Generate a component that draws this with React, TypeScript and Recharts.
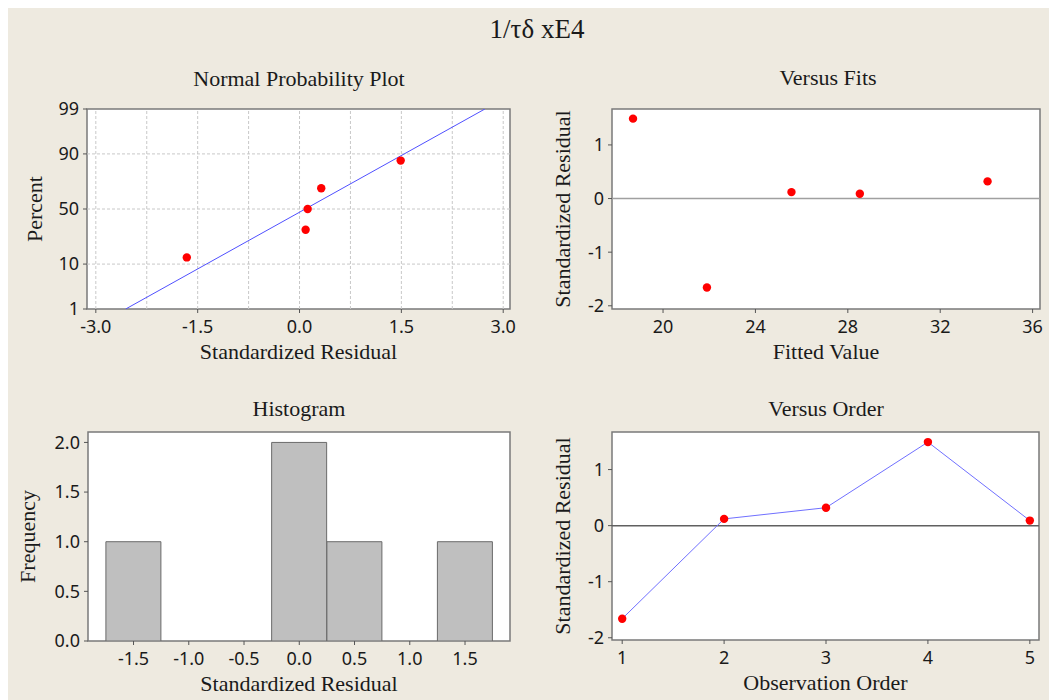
import React from 'react';
import {
  ScatterChart,
  Scatter,
  BarChart,
  Bar,
  XAxis,
  YAxis,
  ReferenceLine,
  ReferenceArea,
} from 'recharts';

// ---------- data ----------
const observationOrder = [1, 2, 3, 4, 5];
const residuals = [-1.66, 0.12, 0.32, 1.49, 0.09];
const fittedValues = [21.9, 25.56, 34.05, 18.7, 28.52];

const sortedResiduals = [-1.66, 0.09, 0.12, 0.32, 1.49];
const probPercents = [13, 31.5, 50, 68.5, 87];
const fitLineResidual = [-2.56, 2.73];
const fitLinePercent = [1, 99];

const histBins = [-1.5, -1.0, -0.5, 0.0, 0.5, 1.0, 1.5];
const histCounts = [1, 0, 0, 2, 1, 0, 1];

const npXTicks = [-3, -1.5, 0, 1.5, 3];
const npGridX = [-3, -2.25, -1.5, -0.75, 0, 0.75, 1.5, 2.25, 3];
const npYTicks = [1, 10, 50, 90, 99];
const npGridY = [10, 50, 90];
const fitsXTicks = [20, 24, 28, 32, 36];
const residTicks = [-2, -1, 0, 1];
const histXTicks = [-1.5, -1.0, -0.5, 0.0, 0.5, 1.0, 1.5];
const histYTicks = [0, 0.5, 1.0, 1.5, 2.0];
const orderTicks = [1, 2, 3, 4, 5];

// ---------- helpers ----------
function probit(p: number): number {
  const a = [-3.969683028665376e1, 2.209460984245205e2, -2.759285104469687e2, 1.38357751867269e2, -3.066479806614716e1, 2.506628277459239];
  const b = [-5.447609879822406e1, 1.615858368580409e2, -1.556989798598866e2, 6.680131188771972e1, -1.328068155720276e1];
  const c = [-7.784894002430293e-3, -3.223964580411365e-1, -2.400758277161838, -2.549732539343734, 4.374664141464968, 2.938163982698783];
  const d = [7.784695709041462e-3, 3.224671290700398e-1, 2.445134137142996, 3.754408661907416];
  const pl = 0.02425;
  const ph = 1 - pl;
  let q: number;
  let r: number;
  if (p < pl) {
    q = Math.sqrt(-2 * Math.log(p));
    return (((((c[0] * q + c[1]) * q + c[2]) * q + c[3]) * q + c[4]) * q + c[5]) / ((((d[0] * q + d[1]) * q + d[2]) * q + d[3]) * q + 1);
  }
  if (p <= ph) {
    q = p - 0.5;
    r = q * q;
    return ((((((a[0] * r + a[1]) * r + a[2]) * r + a[3]) * r + a[4]) * r + a[5]) * q) / (((((b[0] * r + b[1]) * r + b[2]) * r + b[3]) * r + b[4]) * r + 1);
  }
  q = Math.sqrt(-2 * Math.log(1 - p));
  return -(((((c[0] * q + c[1]) * q + c[2]) * q + c[3]) * q + c[4]) * q + c[5]) / ((((d[0] * q + d[1]) * q + d[2]) * q + d[3]) * q + 1);
}

const npZTicks = npYTicks.map((p) => probit(p / 100));
const npZGrid = npGridY.map((p) => probit(p / 100));
const npYDomain = [probit(0.01), probit(0.99)];

const npPoints = sortedResiduals.map((r, i) => ({ x: r, y: probit(probPercents[i] / 100) }));
const npLine = fitLineResidual.map((r, i) => ({ x: r, y: probit(fitLinePercent[i] / 100) }));
const fitsPoints = fittedValues.map((f, i) => ({ x: f, y: residuals[i] }));
const orderPoints = observationOrder.map((o, i) => ({ x: o, y: residuals[i] }));
const histData = histBins.map((b, i) => ({ bin: b, count: histCounts[i] }));

// ---------- styles ----------
const SERIF = '"Liberation Serif", "Times New Roman", serif';
const SANS = '"Noto Sans", "DejaVu Sans", sans-serif';
const BG = '#EEEAE0';
const TEXT = '#1a1a1a';
const tickStyle = { fontFamily: SANS, fontSize: 18, fill: TEXT };
const labelStyle = { fontFamily: SERIF, fontSize: 22, fill: TEXT };
const MARGIN = { top: 40, left: 20, right: 20, bottom: 10 };

const Dot = (props: any) => <circle cx={props.cx} cy={props.cy} r={4.2} fill="#ff0000" />;
const NoShape = () => <g />;

const xAxisCommon = {
  type: 'number' as const,
  axisLine: false,
  tickLine: { stroke: '#555' },
  tickSize: 4,
  tickMargin: 7,
  height: 50,
  interval: 0 as const,
  allowDataOverflow: true,
  tick: tickStyle,
};
const yAxisCommon = {
  type: 'number' as const,
  axisLine: false,
  tickLine: { stroke: '#555' },
  tickSize: 4,
  tickMargin: 4,
  width: 60,
  interval: 0 as const,
  allowDataOverflow: true,
  tick: tickStyle,
};
const xLabel = (value: string) => ({ value, position: 'insideBottom' as const, offset: 0, style: labelStyle });
const yLabel = (value: string, offset: number) => ({
  value,
  angle: -90,
  position: 'insideLeft' as const,
  offset,
  style: { ...labelStyle, textAnchor: 'middle' },
});

const Frame = ({ x, y }: { x: number[]; y: number[] }) => (
  <ReferenceArea x1={x[0]} x2={x[1]} y1={y[0]} y2={y[1]} fill="#ffffff" fillOpacity={1} stroke="#7a7a7a" strokeWidth={1.5} ifOverflow="visible" />
);

export default function App() {
  const npXDomain = [-3.13, 3.1];
  const fitsXDomain = [17.79, 36.32];
  const residDomain = [-2.06, 1.67];
  const histXDomain = [-1.912, 1.907];
  const histYDomain = [0, 2.105];
  const orderXDomain = [0.9, 5.09];
  const orderYDomain = [-2.04, 1.67];

  return (
    <div style={{ position: 'relative', width: 1049, height: 694, marginTop: -2, background: BG, overflow: 'hidden' }}>
      {/* Normal Probability Plot */}
      <div style={{ position: 'absolute', left: -1, top: 63 }}>
        <ScatterChart width={523} height={300} margin={MARGIN}>
          <XAxis {...xAxisCommon} dataKey="x" domain={npXDomain} ticks={npXTicks} tickFormatter={(v: number) => v.toFixed(1)} label={xLabel('Standardized Residual')} />
          <YAxis
            {...yAxisCommon}
            dataKey="y"
            domain={npYDomain}
            ticks={npZTicks}
            tickFormatter={(v: number) => {
              const i = npZTicks.findIndex((z) => Math.abs(z - v) < 1e-6);
              return i >= 0 ? String(npYTicks[i]) : '';
            }}
            label={yLabel('Percent', 7)}
          />
          {Frame({ x: npXDomain, y: npYDomain })}
          {npGridX.map((g) => (
            <ReferenceLine key={'gx' + g} x={g} stroke="#c8c8c8" strokeDasharray="3 2" strokeWidth={1} />
          ))}
          {npZGrid.map((g, i) => (
            <ReferenceLine key={'gy' + i} y={g} stroke="#c8c8c8" strokeDasharray="3 2" strokeWidth={1} />
          ))}
          <Scatter data={npLine} line={{ stroke: '#5050ff', strokeWidth: 1 }} shape={NoShape} isAnimationActive={false} />
          <Scatter data={npPoints} shape={Dot} isAnimationActive={false} />
        </ScatterChart>
      </div>

      {/* Versus Fits */}
      <div style={{ position: 'absolute', left: 524, top: 63 }}>
        <ScatterChart width={528} height={300} margin={MARGIN}>
          <XAxis {...xAxisCommon} dataKey="x" domain={fitsXDomain} ticks={fitsXTicks} label={xLabel('Fitted Value')} />
          <YAxis {...yAxisCommon} dataKey="y" domain={residDomain} ticks={residTicks} label={yLabel('Standardized Residual', 10)} />
          {Frame({ x: fitsXDomain, y: residDomain })}
          <ReferenceLine y={0} stroke="#a0a0a0" strokeWidth={1.5} />
          <Scatter data={fitsPoints} shape={Dot} isAnimationActive={false} />
        </ScatterChart>
      </div>

      {/* Histogram */}
      <div style={{ position: 'absolute', left: 0, top: 386 }}>
        <BarChart width={522} height={309} margin={MARGIN} data={histData} barCategoryGap={0} barGap={0}>
          <XAxis {...xAxisCommon} dataKey="bin" domain={histXDomain} ticks={histXTicks} tickFormatter={(v: number) => v.toFixed(1)} label={xLabel('Standardized Residual')} />
          <YAxis {...yAxisCommon} domain={histYDomain} ticks={histYTicks} tickFormatter={(v: number) => v.toFixed(1)} label={yLabel('Frequency', -1)} />
          {Frame({ x: histXDomain, y: histYDomain })}
          <Bar dataKey="count" fill="#bfbfbf" stroke="#6a6a6a" strokeWidth={1} isAnimationActive={false} />
        </BarChart>
      </div>

      {/* Versus Order */}
      <div style={{ position: 'absolute', left: 524, top: 386 }}>
        <ScatterChart width={527} height={308} margin={MARGIN}>
          <XAxis {...xAxisCommon} dataKey="x" domain={orderXDomain} ticks={orderTicks} label={xLabel('Observation Order')} />
          <YAxis {...yAxisCommon} dataKey="y" domain={orderYDomain} ticks={residTicks} label={yLabel('Standardized Residual', 10)} />
          {Frame({ x: orderXDomain, y: orderYDomain })}
          <ReferenceLine y={0} stroke="#606060" strokeWidth={1.5} />
          <Scatter data={orderPoints} line={{ stroke: '#7070ff', strokeWidth: 1 }} shape={Dot} isAnimationActive={false} />
        </ScatterChart>
      </div>

      {/* Titles */}
      <svg width={1049} height={694} style={{ position: 'absolute', left: 0, top: 0, pointerEvents: 'none' }}>
        <text x={529} y={32} textAnchor="middle" fontFamily={SERIF} fontSize={27} fill={TEXT}>1/τδ xE4</text>
        <text x={291} y={80} textAnchor="middle" fontFamily={SERIF} fontSize={22} fill={TEXT}>Normal Probability Plot</text>
        <text x={820} y={79} textAnchor="middle" fontFamily={SERIF} fontSize={22} fill={TEXT}>Versus Fits</text>
        <text x={291} y={410} textAnchor="middle" fontFamily={SERIF} fontSize={22} fill={TEXT}>Histogram</text>
        <text x={818} y={410} textAnchor="middle" fontFamily={SERIF} fontSize={22} fill={TEXT}>Versus Order</text>
      </svg>
    </div>
  );
}
